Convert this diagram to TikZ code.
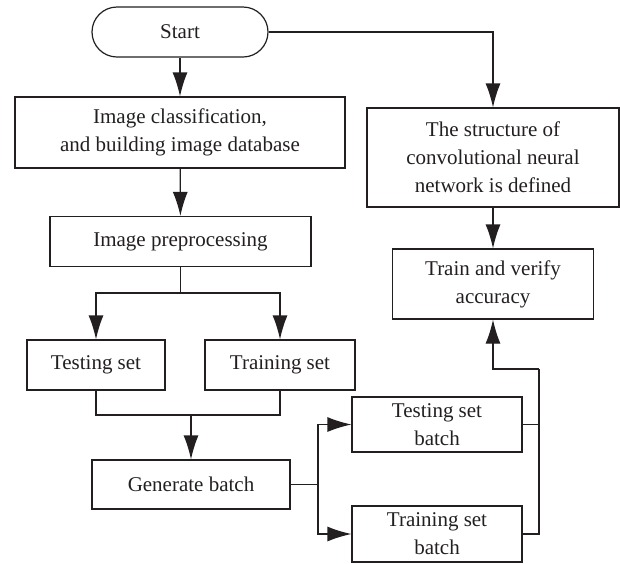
\documentclass[tikz,border=0pt]{standalone}
\usepackage{fontspec}
\setmainfont{Liberation Serif}
\usetikzlibrary{arrows.meta}

\definecolor{ink}{HTML}{231F20}

\begin{document}
\begin{tikzpicture}[x=0.5pt, y=-0.5pt, line width=0.6pt, draw=ink, text=ink,
	>={Latex[length=12pt,width=7.5pt]},
	font=\fontsize{10.5}{14}\selectfont,
	box/.style={draw=ink, rectangle, align=center, inner sep=1pt},
	term/.style={box, rounded corners=12.5pt}]
	% Khung trang
	\useasboundingbox (0,0) rectangle (620,563);
	% Cột trái: chuẩn bị dữ liệu
	\node[term, minimum width=88pt, minimum height=25pt] (start) at (180,32) {Start};
	\node[box, minimum width=165pt, minimum height=35.5pt] (cls) at (180,132.5) {Image classification,\\and building image database};
	\node[box, minimum width=130.5pt, minimum height=25pt] (pre) at (180.5,241.5) {Image preprocessing};
	\node[box, minimum width=69pt, minimum height=25pt] (test) at (96,365) {Testing set};
	\node[box, minimum width=75pt, minimum height=25pt] (train) at (280,365) {Training set};
	\node[box, minimum width=99pt, minimum height=24.5pt] (gen) at (191,484.5) {Generate batch};
	% Các lô dữ liệu
	\node[box, minimum width=85pt, minimum height=27.5pt] (tsb) at (437,424.5) {Testing set\\batch};
	\node[box, minimum width=85pt, minimum height=28pt] (trb) at (437,534) {Training set\\batch};
	% Cột phải: mạng nơ-ron
	\node[box, minimum width=126pt, minimum height=49.5pt] (cnn) at (493,157.5) {The structure of\\convolutional neural\\network is defined};
	\node[box, minimum width=100.5pt, minimum height=35pt] (acc) at (493,284) {Train and verify\\accuracy};
	% Các điểm rẽ nhánh
	\coordinate (split) at (180.5,293);
	\coordinate (merge) at (191,415);
	\coordinate (fork) at (318,484.5);
	\coordinate (join) at (539,369);
	% Các mũi tên nối
	\draw[->] (start) -- (cls);
	\draw[->] (start.east) -| (cnn.north);
	\draw[->] (cls) -- (pre);
	\draw (pre) -- (split);
	\draw[->] (split) -| (test.north);
	\draw[->] (split) -| (train.north);
	\draw (test.south) |- (merge);
	\draw (train.south) |- (merge);
	\draw[->] (merge) -- (gen.north);
	\draw (gen.east) -- (fork);
	\draw[->] (fork) |- (tsb.west);
	\draw[->] (fork) |- (trb.west);
	\draw (tsb.east) -| (join);
	\draw (trb.east) -| (join);
	\draw[->] (join) -| (acc.south);
	\draw[->] (cnn) -- (acc);
\end{tikzpicture}
\end{document}
